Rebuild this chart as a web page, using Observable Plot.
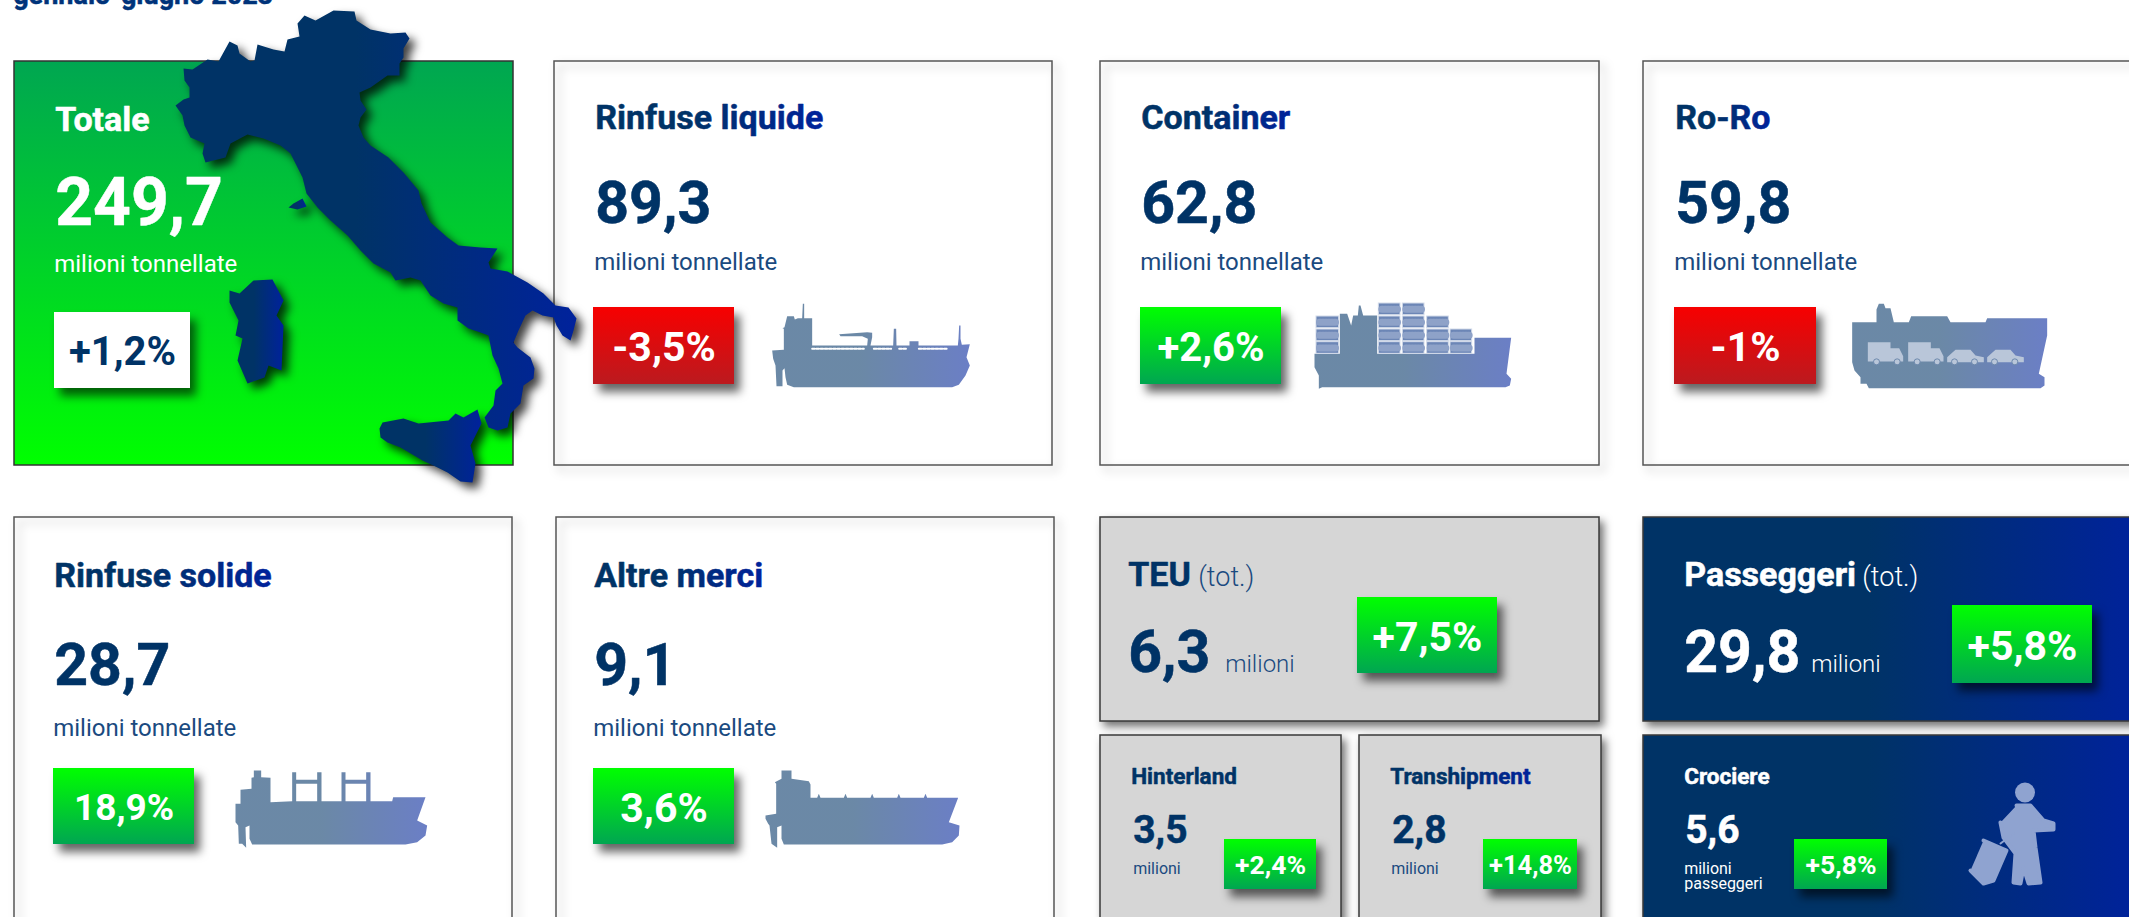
<!DOCTYPE html>
<html lang="it">
<head>
<meta charset="utf-8">
<title>Porti italiani, gennaio-giugno 2023</title>
<style>
  html, body { margin: 0; padding: 0; background: #fff; overflow: hidden; width: 2129px; height: 917px; }
  svg { display: block; }
</style>
<script src="https://cdn.jsdelivr.net/npm/d3@7"></script>
<script src="https://cdn.jsdelivr.net/npm/@observablehq/plot@0.6"></script>
</head>
<body>
<div id="chart"></div>
<script>
// ---------- Chart values ----------
const periodo = "gennaio-giugno 2023";
const categorie = ["Totale", "Rinfuse liquide", "Container", "Ro-Ro", "Rinfuse solide", "Altre merci"];
const milioniTonnellate = [249.7, 89.3, 62.8, 59.8, 28.7, 9.1];
const variazioni = ["+1,2%", "-3,5%", "+2,6%", "-1%", "18,9%", "3,6%"];
const unitaTonnellate = "milioni tonnellate";
const categorieTeuPax = ["TEU", "Passeggeri"];
const valoriTeuPax = [6.3, 29.8];
const variazioniTeuPax = ["+7,5%", "+5,8%"];
const sottoCategorie = ["Hinterland", "Transhipment", "Crociere"];
const sottoValori = [3.5, 2.8, 5.6];
const sottoVariazioni = ["+2,4%", "+14,8%", "+5,8%"];

// ---------- Outlines (map and pictograms) ----------
const penisola = [[175,105],[183,99],[189,97],[189,87],[184,80],[183,68],[192,69],[207,59],[218,61],[229,41],[237,45],[239,53],[250,61],[254,60],[257,44],[273,49],[284,51],[287,39],[299,36],[297,23],[304,15],[315,20],[333,10],[354,11],[356,20],[370,29],[390,33],[405,32],[409,38],[403,48],[403,57],[399,63],[399,75],[387,75],[370,87],[359,92],[360,100],[366,109],[360,117],[358,125],[363,137],[370,145],[388,157],[403,172],[418,190],[421,203],[430,222],[447,237],[458,245],[480,247],[497,248],[488,262],[490,268],[507,271],[527,282],[543,293],[555,305],[568,307],[576,318],[573,330],[570,340],[562,335],[556,325],[553,317],[542,315],[532,310],[525,315],[518,330],[513,342],[517,347],[530,357],[534,368],[533,378],[523,385],[520,403],[510,413],[507,427],[497,430],[488,427],[484,417],[493,405],[495,390],[502,383],[498,368],[492,355],[488,335],[480,332],[468,328],[457,320],[457,307],[443,303],[430,295],[420,280],[410,277],[395,280],[390,272],[373,263],[360,250],[347,235],[330,220],[317,207],[306,193],[302,177],[290,153],[280,145],[263,138],[247,134],[230,143],[225,157],[205,162],[202,153],[204,143],[190,137],[184,125],[182,115]];
const sardegna = [[229,290],[239,293],[253,280],[272,279],[283,300],[276,315],[283,325],[281,370],[268,365],[264,377],[247,383],[237,360],[242,338],[235,335],[238,320],[229,302]];
const elba = [[288,207],[293,203],[302,198],[306,206],[297,209]];
const sicilia = [[379,428],[382,422],[403,418],[418,423],[448,420],[455,413],[463,417],[477,409],[481,423],[470,445],[475,463],[472,482],[460,481],[447,472],[437,467],[422,460],[400,447],[387,442],[380,437]];

const naveLiquide = [[48,272],[45,210],[38,190],[35,165],[70,163],[70,100],[66,98],[72,95],[80,62],[100,62],[103,72],[112,68],[125,68],[127,25],[131,25],[131,68],[155,68],[155,150],[320,150],[322,130],[305,122],[240,122],[236,116],[320,110],[335,112],[335,125],[330,150],[398,150],[400,100],[407,100],[408,150],[447,150],[447,137],[474,137],[474,150],[592,150],[594,130],[596,90],[600,90],[600,130],[604,148],[628,146],[618,185],[628,210],[615,240],[595,268],[575,275],[100,275],[80,268],[75,245],[72,218],[66,225],[66,272]];
const finestreLiquide = [[155,310],[340,392],[416,440],[475,560]];
const naveContainer = [[42,175],[118,175],[118,55],[140,55],[152,90],[158,60],[172,60],[175,30],[180,30],[188,60],[230,60],[230,175],[522,175],[522,127],[632,127],[618,235],[632,250],[628,270],[615,275],[65,275],[55,280],[55,240],[42,215]];
const colonneContainer = [[48,116,[63,102,140]],[235,300,[24,63,102,140]],[307,372,[24,63,102,140]],[380,445,[63,102,140]],[450,515,[102,140]]];
const naveRoRo = [[35,80],[108,80],[108,42],[115,25],[130,25],[135,38],[150,38],[160,80],[205,80],[212,62],[320,62],[330,80],[435,80],[440,68],[620,68],[620,120],[595,235],[612,245],[612,270],[600,278],[85,278],[78,265],[60,265],[60,245],[42,225],[35,200]];
const camion = [[82,140],[150,140],[150,158],[176,158],[188,182],[188,198],[82,198]];
const auto = [[320,185],[345,163],[390,163],[405,180],[430,185],[430,200],[320,200]];
const ruote = [108,170,230,290,342,402,462,523];
const naveSolide = [[30,130],[45,130],[45,88],[78,85],[78,52],[85,50],[85,30],[107,30],[107,50],[135,52],[135,125],[200,122],[200,35],[212,35],[212,58],[275,58],[275,35],[288,35],[288,122],[275,122],[275,70],[212,70],[212,122],[348,122],[348,35],[360,35],[360,58],[422,58],[422,35],[435,35],[435,122],[422,122],[422,70],[360,70],[360,122],[500,122],[503,110],[600,110],[575,180],[605,195],[600,225],[575,245],[540,252],[80,252],[72,235],[72,195],[60,200],[62,262],[50,250],[40,250],[38,195],[30,185]];
const naveMerci = [[30,165],[62,160],[62,70],[58,65],[78,55],[78,30],[108,30],[108,55],[160,62],[165,72],[165,112],[185,112],[190,100],[195,112],[265,112],[270,100],[275,112],[345,112],[350,100],[355,112],[425,112],[430,100],[435,112],[505,112],[510,100],[515,112],[608,112],[580,185],[612,195],[610,225],[590,245],[560,252],[85,252],[78,235],[78,195],[65,200],[65,262],[48,250],[42,195],[38,190],[30,175]];
const viaggiatore = [[2016,805],[2030,805],[2043,820],[2053,823],[2053,829],[2033,830],[2035,847],[2040,882],[2028,883],[2023,867],[2020,883],[2013,882],[2015,853],[2003,837],[2000,822]];
const valigia = [[1983,840],[2006,850],[1993,880],[1983,883],[1970,870]];
const maniglia = [[2013,833],[2000,843]];

// ---------- Layout ----------
const W = 2129, H = 917;
const NAVY = "#003366", INK = "url(#inchiostro)";
const box = (x1, y1, x2, y2, fill, stroke) => ({x1, y1, x2, y2, fill, stroke});
const riquadriBianchi = [
  box(554, 61, 1052, 465, "#fff"), box(1100, 61, 1599, 465, "#fff"), box(1643, 61, 2142, 465, "#fff"),
  box(14, 517, 512, 960, "#fff"), box(556, 517, 1054, 960, "#fff")
];
const riquadriColorati = [
  box(1100, 517, 1599, 721, "#d6d6d6"), box(1100, 735, 1341, 960, "#d6d6d6"), box(1359, 735, 1601, 960, "#d6d6d6"),
  box(1643, 517, 2142, 721, "url(#blu)"), box(1643, 735, 2142, 960, "url(#blu)")
];
const riquadroTotale = [box(14, 61, 513, 465, "url(#verdeGiu)")];

const colore = (label) => label.startsWith("-") ? "url(#rosso)" : "url(#verdeSu)";
const num = (v) => v.toFixed(1).replace(".", ",");

const riquadriVar = [
  {...box(54, 312, 190, 388, "#fff"), label: variazioni[0], size: 40, color: NAVY},
  {...box(593, 307, 734, 384, colore(variazioni[1])), label: variazioni[1], size: 41},
  {...box(1140, 307, 1281, 384, colore(variazioni[2])), label: variazioni[2], size: 40},
  {...box(1674, 307, 1816, 384, colore(variazioni[3])), label: variazioni[3], size: 41},
  {...box(53, 768, 194, 844, colore(variazioni[4])), label: variazioni[4], size: 37},
  {...box(593, 768, 734, 844, colore(variazioni[5])), label: variazioni[5], size: 41},
  {...box(1357, 597, 1497, 673, colore(variazioniTeuPax[0])), label: variazioniTeuPax[0], size: 41},
  {...box(1952, 605, 2092, 683, colore(variazioniTeuPax[1])), label: variazioniTeuPax[1], size: 41},
  {...box(1224, 839, 1316, 889, colore(sottoVariazioni[0])), label: sottoVariazioni[0], size: 26.5},
  {...box(1483, 839, 1577, 889, colore(sottoVariazioni[1])), label: sottoVariazioni[1], size: 25.5},
  {...box(1794, 839, 1887, 889, colore(sottoVariazioni[2])), label: sottoVariazioni[2], size: 26.5}
];

const T = (x, y, text, size, weight, fill) => ({x, y, text, size, weight, fill});
const UNIT = "#1a4a80";
const testi = [
  T(14, 3, periodo, 27, 700, "#00337a"),
  T(56, 130, categorie[0], 34, 700, "#fff"), T(56, 224, num(milioniTonnellate[0]), 66, 700, "#fff"), T(55, 271, unitaTonnellate, 24, 400, "#fff"),
  T(596, 128, categorie[1], 34, 700, INK), T(596, 222, num(milioniTonnellate[1]), 59, 700, NAVY), T(595, 269, unitaTonnellate, 24, 400, UNIT),
  T(1142, 128, categorie[2], 34, 700, INK), T(1142, 222, num(milioniTonnellate[2]), 59, 700, NAVY), T(1141, 269, unitaTonnellate, 24, 400, UNIT),
  T(1676, 128, categorie[3], 34, 700, INK), T(1676, 222, num(milioniTonnellate[3]), 59, 700, NAVY), T(1675, 269, unitaTonnellate, 24, 400, UNIT),
  T(55, 586, categorie[4], 34, 700, INK), T(55, 684, num(milioniTonnellate[4]), 59, 700, NAVY), T(54, 735, unitaTonnellate, 24, 400, UNIT),
  T(595, 586, categorie[5], 34, 700, INK), T(595, 684, num(milioniTonnellate[5]), 59, 700, NAVY), T(594, 735, unitaTonnellate, 24, 400, UNIT),
  T(1129, 585, categorieTeuPax[0], 34, 700, NAVY), T(1199, 585, "(tot.)", 27, 300, UNIT),
  T(1129, 671, num(valoriTeuPax[0]), 59, 700, NAVY), T(1226, 671, "milioni", 24, 300, UNIT),
  T(1685, 585, categorieTeuPax[1], 34, 700, "#fff"), T(1863, 585, "(tot.)", 27, 300, "#fff"),
  T(1685, 671, num(valoriTeuPax[1]), 59, 700, "#fff"), T(1812, 671, "milioni", 24, 300, "#fff"),
  T(1132, 783, sottoCategorie[0], 22.5, 700, NAVY), T(1134, 842, num(sottoValori[0]), 39, 700, NAVY), T(1134, 873, "milioni", 16, 400, UNIT),
  T(1391, 783, sottoCategorie[1], 22.5, 700, INK), T(1393, 842, num(sottoValori[1]), 39, 700, NAVY), T(1392, 873, "milioni", 16, 400, UNIT),
  T(1685, 783, sottoCategorie[2], 22.5, 700, "#fff"), T(1686, 842, num(sottoValori[2]), 39, 700, "#fff"),
  T(1685, 873, "milioni", 16, 400, "#fff"), T(1685, 888, "passeggeri", 16, 400, "#fff")
];

// Pictogram placement: outline points are in 1/3 px of the box anchored at [ox, oy]
const place = ([ox, oy], pts, name) => pts.map(([x, y]) => ({x: ox + x / 3, y: oy + y / 3, name}));
const aLiquide = [760, 295], aContainer = [1300, 295], aRoRo = [1840, 295], aSolide = [225, 760], aMerci = [755, 760];
const navi = [
  ...place(aLiquide, naveLiquide, "liquide"), ...place(aContainer, naveContainer, "container"),
  ...place(aRoRo, naveRoRo, "roro"), ...place(aSolide, naveSolide, "solide"), ...place(aMerci, naveMerci, "merci")
];
const finestre = finestreLiquide.flatMap(([a, b], i) => place(aLiquide, [[a, 160], [b, 160]], i));
const contenitori = colonneContainer.flatMap(([a, b, ys]) => ys.map((t) => ({
  x1: aContainer[0] + a / 3, x2: aContainer[0] + b / 3, y1: aContainer[1] + t / 3, y2: aContainer[1] + (t + 35) / 3
})));
const veicoli = [
  ...place(aRoRo, camion, "c1"),
  ...place(aRoRo, camion.map(([x, y]) => [x + 121, y]), "c2"),
  ...place(aRoRo, auto, "a1"),
  ...place(aRoRo, auto.map(([x, y]) => [x + 120, y]), "a2")
];
const ruoteDot = ruote.map((x) => ({x: aRoRo[0] + x / 3, y: aRoRo[1] + 199 / 3}));
const italia = [
  ...penisola.map(([x, y]) => ({x, y, name: "penisola"})),
  ...sardegna.map(([x, y]) => ({x, y, name: "sardegna"})),
  ...elba.map(([x, y]) => ({x, y, name: "elba"})),
  ...sicilia.map(([x, y]) => ({x, y, name: "sicilia"}))
];
const persona = [
  ...viaggiatore.map(([x, y]) => ({x, y, name: "corpo"})),
  ...valigia.map(([x, y]) => ({x, y, name: "valigia"}))
];

// ---------- Gradients ----------
function defs() {
  const d = d3.create("svg:defs");
  const grad = (id, vertical, stops) => {
    const g = d.append("linearGradient").attr("id", id).attr("x1", 0).attr("y1", 0)
      .attr("x2", vertical ? 0 : 1).attr("y2", vertical ? 1 : 0);
    stops.forEach(([o, c]) => g.append("stop").attr("offset", o).attr("stop-color", c));
  };
  grad("blu", false, [[0.45, "#003366"], [1, "#00229c"]]);
  grad("inchiostro", false, [[0.4, "#003366"], [1, "#00229c"]]);
  grad("verdeGiu", true, [[0, "#00a651"], [1, "#00ff00"]]);
  grad("verdeSu", true, [[0, "#00ff00"], [1, "#00a651"]]);
  grad("rosso", true, [[0, "#f70000"], [1, "#bb1a1f"]]);
  return d.node();
}

const fontFamily = "Roboto";
const testo = (weight) => Plot.text(testi.filter((d) => d.weight === weight), {
  x: "x", y: "y", dx: -1.3, text: "text", fontSize: "size", fill: "fill",
  stroke: weight === 700 ? "fill" : "none", strokeWidth: weight === 700 ? 0.5 : 0,
  fontFamily, fontWeight: weight, textAnchor: "start", lineAnchor: "bottom"
});

const plot = Plot.plot({
  width: W, height: H, margin: 0,
  style: {background: "#fff", overflow: "hidden", maxWidth: "none"},
  x: {domain: [0, W], range: [0, W], axis: null},
  y: {domain: [0, H], range: [0, H], axis: null},
  color: {type: "identity"},
  marks: [
    defs,
    // plain cards: soft shadow of the frame falls both in and outside
    Plot.rect(riquadriBianchi, {x1: "x1", x2: "x2", y1: "y1", y2: "y2", fill: "#fff"}),
    Plot.rect(riquadriBianchi, {x1: "x1", x2: "x2", y1: "y1", y2: "y2", fill: "none", stroke: "#555", strokeWidth: 1.5,
      imageFilter: "drop-shadow(5px 5px 5px rgba(0,0,0,.28))"}),
    Plot.rect(riquadriColorati, {x1: "x1", x2: "x2", y1: "y1", y2: "y2", fill: "fill", stroke: "#3a3a3a", strokeWidth: 1.5,
      imageFilter: "drop-shadow(4px 5px 4px rgba(0,0,0,.55))"}),
    Plot.rect(riquadroTotale, {x1: "x1", x2: "x2", y1: "y1", y2: "y2", fill: "fill", stroke: "#333", strokeWidth: 1.5}),
    // Italy
    Plot.line(italia, {x: "x", y: "y", z: "name", fill: "url(#blu)", stroke: "none",
      imageFilter: "drop-shadow(6px 6px 5px rgba(0,0,0,.75))"}),
    // ships
    Plot.line(navi, {x: "x", y: "y", z: "name", fill: "url(#blu)", fillOpacity: 0.58, stroke: "none"}),
    Plot.line(finestre, {x: "x", y: "y", z: "name", stroke: "#fff", strokeWidth: 2, strokeDasharray: "2.6 1.6"}),
    Plot.rect(contenitori, {x1: "x1", x2: "x2", y1: "y1", y2: "y2", fill: "#6c86b6", stroke: "#d3dbea", strokeWidth: 1}),
    Plot.line(contenitori.flatMap((d, i) => [{x: d.x1 + 3, y: (d.y1 + d.y2) / 2, i}, {x: d.x2 - 3, y: (d.y1 + d.y2) / 2, i}]),
      {x: "x", y: "y", z: "i", stroke: "#8ea2c8", strokeWidth: 7, strokeDasharray: "1 2"}),
    Plot.line(veicoli, {x: "x", y: "y", z: "name", fill: "#b9c6d9", stroke: "none"}),
    Plot.dot(ruoteDot, {x: "x", y: "y", r: 3, fill: "#b9c6d9", stroke: "#6d89ad", strokeWidth: 1}),
    // traveller
    Plot.line(persona, {x: "x", y: "y", z: "name", fill: "#8fa3d0", stroke: "#8fa3d0", strokeWidth: 4, strokeLinejoin: "round"}),
    Plot.line(maniglia.map(([x, y]) => ({x, y})), {x: "x", y: "y", stroke: "#8fa3d0", strokeWidth: 2}),
    Plot.dot([{x: 2024.5, y: 792}], {x: "x", y: "y", r: 10, fill: "#8fa3d0"}),
    // change badges
    Plot.rect(riquadriVar, {x1: "x1", x2: "x2", y1: "y1", y2: "y2", fill: "fill",
      imageFilter: "drop-shadow(6px 8px 5px rgba(0,0,0,.6))"}),
    Plot.text(riquadriVar, {
      x: (d) => (d.x1 + d.x2) / 2, y: (d) => (d.y1 + d.y2) / 2 + d.size * 0.37,
      text: "label", fontSize: "size", fill: (d) => d.color ?? "#fff",
      fontFamily, fontWeight: 700, textAnchor: "middle", lineAnchor: "bottom"
    }),
    testo(300), testo(400), testo(700)
  ]
});
document.getElementById("chart").append(plot);
</script>
</body>
</html>
